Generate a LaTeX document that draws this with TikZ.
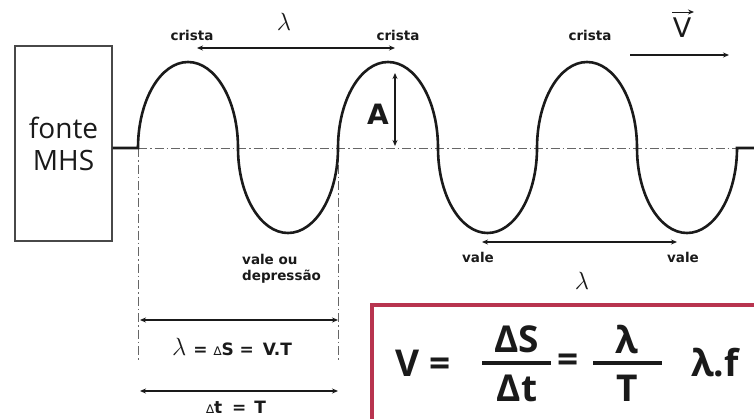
\documentclass[tikz,border=0pt]{standalone}
\usepackage{fontspec}
\usetikzlibrary{arrows.meta}
\newfontfamily\labfont{DejaVu Sans}
\newfontfamily\osfont{Open Sans}
\definecolor{ink}{HTML}{1A1A1A}
\definecolor{framered}{HTML}{B8344F}
\begin{document}
\begin{tikzpicture}[x=1pt,y=-1pt,
  lbl/.style={font=\labfont\bfseries\fontsize{13.5}{16}\selectfont, text=ink, inner sep=0pt},
  wave/.style={line width=2.6pt, draw=ink},
  axisline/.style={draw=gray!80!black, line width=0.7pt, dash pattern=on 9pt off 3pt on 1.5pt off 3pt},
  dimarrow/.style={draw=ink, line width=1.1pt, {Stealth[length=6pt,width=5pt]}-{Stealth[length=6pt,width=5pt]}},
  onearrow/.style={draw=ink, line width=1.1pt, -{Stealth[length=6pt,width=5pt]}},
  formula/.style={font=\osfont\bfseries\fontsize{37}{40}\selectfont, text=ink, inner sep=0pt},
  fracbar/.style={draw=ink, line width=3.5pt}
]
\clip (0,0) rectangle (754,418);
\fill[white] (0,0) rectangle (754,418);

% source box
\node[draw=ink!80, line width=1.2pt, minimum width=97pt, minimum height=195pt, inner sep=0pt,
      font=\osfont\fontsize{28}{32}\selectfont, text=ink, align=center] (src) at (63.5,143.5) {fonte\\MHS};

% axis and verticals
\coordinate (w0) at (138,148);
\coordinate (w6) at (737,148);
\coordinate (wend) at (754,148);
\coordinate (v0b) at (138,362);
\coordinate (v1) at (338,148);
\coordinate (v1b) at (338,362);
\draw[axisline] (w0) -- (w6);
\draw[axisline] (w0) -- (v0b);
\draw[axisline] (v1) -- (v1b);

% wave
\draw[wave] (src.east |- w0) -- (w0)
  arc[start angle=180,end angle=360,x radius=50,y radius=86]
  arc[start angle=180,end angle=0,x radius=50,y radius=85]
  arc[start angle=180,end angle=360,x radius=50,y radius=86]
  arc[start angle=180,end angle=0,x radius=49.5,y radius=85]
  arc[start angle=180,end angle=360,x radius=50,y radius=86]
  arc[start angle=180,end angle=0,x radius=50,y radius=85]
  -- (wend);

% labels top
\node[lbl] (c1) at (192,35) {crista};
\node[lbl] (c2) at (398,35) {crista};
\node[lbl] (c3) at (590,35) {crista};
\node[text=ink, inner sep=0pt] (lam1) at (284,22) {\fontsize{25}{25}\selectfont$\lambda$};
\coordinate (t1) at (197,48);
\coordinate (t2) at (395,48);
\draw[dimarrow] (t1) -- (t2);

% velocity
\node[text=ink, inner sep=0pt, font=\labfont\fontsize{27}{27}\selectfont] (vel) at (682,28) {V};
\coordinate (va) at (672,12);
\coordinate (vb) at (694,12);
\draw[onearrow, line width=1pt] (va) -- (vb);
\coordinate (ra) at (630,55);
\coordinate (rb) at (729,55);
\draw[onearrow] (ra) -- (rb);

% amplitude
\node[text=ink, inner sep=0pt, font=\labfont\bfseries\fontsize{28}{28}\selectfont] (amp) at (378,114) {A};
\coordinate (a1) at (395,73);
\coordinate (a2) at (395,146);
\draw[dimarrow] (a1) -- (a2);

% valleys
\node[lbl, align=left, anchor=west] (dep) at (242,269) {vale ou\\depressão};
\node[lbl] (vl1) at (478,257) {vale};
\node[lbl] (vl2) at (683,257) {vale};
\coordinate (b1) at (482,242);
\coordinate (b2) at (677,242);
\draw[dimarrow] (b1) -- (b2);
\node[text=ink, inner sep=0pt] (lam2) at (582,281) {\fontsize{25}{25}\selectfont$\lambda$};

% bottom-left relations
\coordinate (d1) at (140,320);
\coordinate (d2) at (338,320);
\draw[dimarrow] (d1) -- (d2);
\node[text=ink, inner sep=0pt] (rel1) at (232,347)
  {\fontsize{25}{25}\selectfont$\lambda$\hspace{7pt}{\labfont\bfseries\fontsize{17}{17}\selectfont =\hspace{6pt}{\mdseries\fontsize{12}{12}\selectfont ∆}S =\hspace{9pt}V.T}};
\coordinate (e1) at (140,391);
\coordinate (e2) at (338,391);
\draw[dimarrow] (e1) -- (e2);
\node[text=ink, inner sep=0pt, font=\labfont\bfseries\fontsize{17}{17}\selectfont] (rel2) at (236,407)
  {{\mdseries\fontsize{12}{12}\selectfont ∆}t\hspace{10pt}=\hspace{8pt}T};

% formula box
\draw[draw=framered, line width=4pt] (372,305) rectangle (775,440);
\node[formula] (fV) at (423,363) {V =};
\node[formula] (fnum1) at (517,339) {ΔS};
\node[formula] (fden1) at (517,388) {Δt};
\coordinate (f1a) at (482,363);
\coordinate (f1b) at (551,363);
\draw[fracbar] (f1a) -- (f1b);
\node[formula] (feq) at (568,363) {=};
\node[formula] (fnum2) at (627,339) {λ};
\node[formula] (fden2) at (627,388) {T};
\coordinate (f2a) at (593,363);
\coordinate (f2b) at (662,363);
\draw[fracbar] (f2a) -- (f2b);
\node[formula] (flf) at (715,363) {λ.f};
\end{tikzpicture}
\end{document}
